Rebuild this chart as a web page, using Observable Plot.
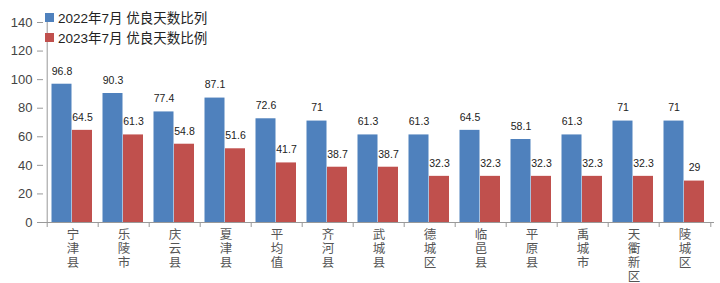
<!DOCTYPE html>
<html><head><meta charset="utf-8">
<script src="https://cdn.jsdelivr.net/npm/d3@7"></script>
<script src="https://cdn.jsdelivr.net/npm/@observablehq/plot@0.6"></script>
<style>
body{margin:0;background:#fff;}
#wrap{position:relative;width:720px;height:283px;font-family:"Liberation Sans","Noto Sans CJK SC",sans-serif;}
.lg{position:absolute;left:45px;font-size:13.5px;color:#222;display:flex;align-items:center;white-space:nowrap;}
.sw{width:9px;height:9px;margin-right:4px;display:inline-block;}
</style></head>
<body><div id="wrap"></div>
<script>
const cats = ["宁津县","乐陵市","庆云县","夏津县","平均值","齐河县","武城县","德城区","临邑县","平原县","禹城市","天衢新区","陵城区"];
const v2022 = [96.8,90.3,77.4,87.1,72.6,71,61.3,61.3,64.5,58.1,61.3,71,71];
const v2023 = [64.5,61.3,54.8,51.6,41.7,38.7,38.7,32.3,32.3,32.3,32.3,32.3,29];
const seriesNames = ["2022年7月 优良天数比列","2023年7月 优良天数比例"];
const colors = ["#4F81BD","#C0504D"];
const yTicks = [0,20,40,60,80,100,120,140];

const W = 720, H = 283, mL = 43, mR = 6, mT = 22, mB = 61;
const bw = (W - mL - mR) / cats.length;
const d22 = cats.map((c,i)=>({cat:c, v:v2022[i]}));
const d23 = cats.map((c,i)=>({cat:c, v:v2023[i]}));
const fmt = v => String(v);

const chart = Plot.plot({
  width: W, height: H,
  marginLeft: mL, marginRight: mR, marginTop: mT, marginBottom: mB,
  style: {fontFamily: '"Liberation Sans","Noto Sans CJK SC",sans-serif', background: "#fff"},
  x: {domain: cats, padding: 0, axis: null},
  y: {domain: [0,140], axis: null},
  marks: [
    Plot.barY(d22, {x:"cat", y:"v", fill: colors[0], insetLeft: 4.5, insetRight: 26.5}),
    Plot.barY(d23, {x:"cat", y:"v", fill: colors[1], insetLeft: 25, insetRight: 6}),
    Plot.text(d22, {x:"cat", y:"v", text: d=>fmt(d.v), dx: -11, dy: -13, fontSize: 10.5, fill: "#222"}),
    Plot.text(d23, {x:"cat", y:"v", text: d=>fmt(d.v), dx: 9.5, dy: -13, fontSize: 10.5, fill: "#222"}),
    Plot.axisY({ticks: yTicks, tickSize: 6, tickPadding: 5, fontSize: 13, color: "#444", stroke: "#999", label: null}),
    Plot.axisX({tickSize: 0, tickPadding: 7, fontSize: 12.5, lineHeight: 1.1, color: "#555", label: null,
      fontFamily: '"Noto Sans CJK SC",sans-serif',
      tickFormat: d => d.split("").join("\n")}),
    Plot.ruleX(cats, {x: d=>d, dx: -bw/2, y1: 0, y2: 0, insetBottom: -5, stroke: "#999"}),
    Plot.ruleX([cats[cats.length-1]], {x: d=>d, dx: bw/2, y1: 0, y2: 0, insetBottom: -5, stroke: "#999"}),
    Plot.ruleY([0], {stroke: "#999"}),
    Plot.ruleX([cats[0]], {x: d=>d, dx: -bw/2, y1: 0, y2: 140, stroke: "#999"})
  ]
});
const wrap = document.getElementById("wrap");
wrap.appendChild(chart);
seriesNames.forEach((n,i)=>{
  const d = document.createElement("div");
  d.className = "lg";
  d.style.top = (i===0 ? 7 : 27) + "px";
  d.innerHTML = `<span class="sw" style="background:${colors[i]}"></span><span>${n}</span>`;
  wrap.appendChild(d);
});
</script>
</body></html>
